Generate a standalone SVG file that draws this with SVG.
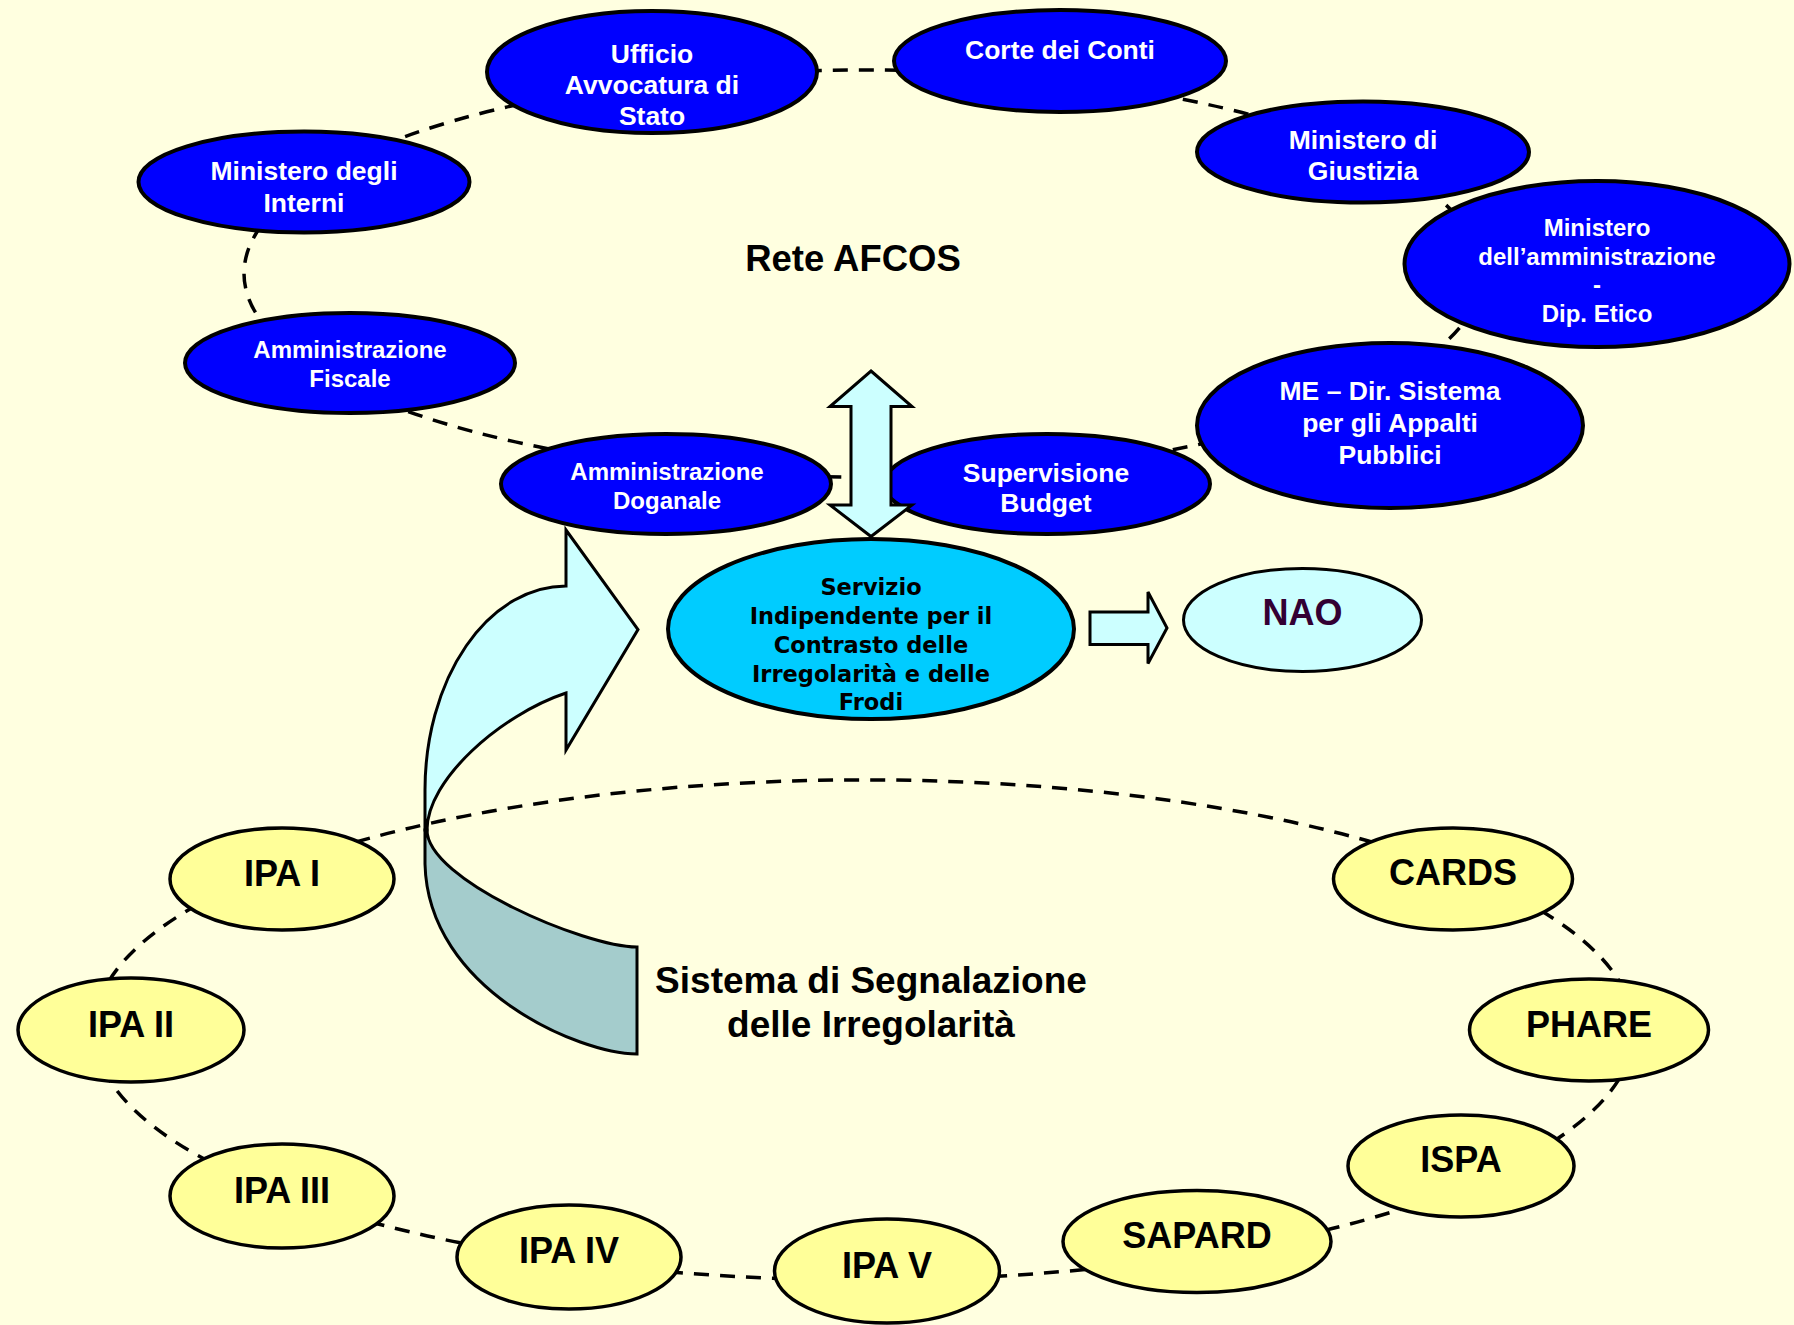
<svg xmlns="http://www.w3.org/2000/svg" width="1794" height="1325" viewBox="0 0 1794 1325">
<style>
.bn{fill:#0000FF;stroke:#000;stroke-width:4}
.yn{fill:#FFFF99;stroke:#000;stroke-width:3.5}
.ring{fill:none;stroke:#000;stroke-width:3.5;stroke-dasharray:15 11}
.arr{stroke:#000;stroke-width:3;stroke-linejoin:miter}
.lt{fill:#CCFFFF}
.dk{fill:#A4CCCC}
text{font-family:"Liberation Sans",Arial,sans-serif;font-weight:bold;text-anchor:middle}
.wt{fill:#FFF;font-size:26.5px}
.ws{fill:#FFF;font-size:24px}
.yt{fill:#000;font-size:36px}
.sv{fill:#000;font-family:"DejaVu Sans",Verdana,sans-serif;font-size:22.5px}
.big{fill:#000;font-size:36.5px}
</style>
<rect x="0" y="0" width="1794" height="1325" fill="#FFFFE0"/>

<g id="connectors">
  <!-- AFCOS ring -->
  <path class="ring" d="M651.3,82.2 A619 203.5 0 0 1 1054.3,80"/>
  <path class="ring" d="M1054.3,80 A619 203.5 0 0 1 1357.6,151"/>
  <path class="ring" d="M1357.6,151 A619 203.5 0 0 1 1479.6,255.8"/>
  <path class="ring" d="M1479.6,255.8 A619 203.5 0 0 1 1337.2,404.3"/>
  <path class="ring" d="M1337.2,404.3 A619 203.5 0 0 1 1023.2,470.1"/>
  <path class="ring" d="M1023.2,470.1 A619 203.5 0 0 1 702.8,470.1"/>
  <path class="ring" d="M702.8,470.1 A619 203.5 0 0 1 311.5,365.9"/>
  <path class="ring" d="M311.5,365.9 A619 203.5 0 0 1 311.5,181.1"/>
  <path class="ring" d="M311.5,181.1 A619 203.5 0 0 1 651.3,82.2"/>
  <!-- Irregularity reporting ring -->
  <path class="ring" d="M257.2,876 A770 250 0 0 1 1470.8,876"/>
  <path class="ring" d="M1470.8,876 A770 250 0 0 1 1634,1030"/>
  <path class="ring" d="M1634,1030 A770 250 0 0 1 1486.9,1177"/>
  <path class="ring" d="M1486.9,1177 A770 250 0 0 1 1213.6,1252.8"/>
  <path class="ring" d="M1213.6,1252.8 A770 250 0 0 1 891,1279.8"/>
  <path class="ring" d="M891,1279.8 A770 250 0 0 1 563,1260"/>
  <path class="ring" d="M563,1260 A770 250 0 0 1 282.6,1194"/>
  <path class="ring" d="M282.6,1194 A770 250 0 0 1 94,1030"/>
  <path class="ring" d="M94,1030 A770 250 0 0 1 257.2,876"/>
</g>

<text class="big" x="853" y="271">Rete AFCOS</text>
<text class="big" x="871" y="993" style="font-size:37px">Sistema di Segnalazione</text>
<text class="big" x="871" y="1037" style="font-size:37px">delle Irregolarità</text>

<g id="node-ufficio">
  <ellipse class="bn" cx="652" cy="72" rx="165" ry="61"/>
  <text class="wt" x="652" y="62.5">Ufficio</text>
  <text class="wt" x="652" y="94">Avvocatura di</text>
  <text class="wt" x="652" y="125">Stato</text>
</g>
<g id="node-corte">
  <ellipse class="bn" cx="1060" cy="61" rx="166" ry="51"/>
  <text class="wt" x="1060" y="59">Corte dei Conti</text>
</g>
<g id="node-interni">
  <ellipse class="bn" cx="304" cy="182" rx="165.5" ry="50.5"/>
  <text class="wt" x="304" y="180">Ministero degli</text>
  <text class="wt" x="304" y="211.5">Interni</text>
</g>
<g id="node-fiscale">
  <ellipse class="bn" cx="350" cy="363" rx="165" ry="50"/>
  <text class="ws" x="350" y="357.5">Amministrazione</text>
  <text class="ws" x="350" y="387">Fiscale</text>
</g>
<g id="node-doganale">
  <ellipse class="bn" cx="666" cy="484" rx="165" ry="50"/>
  <text class="ws" x="667" y="479.5">Amministrazione</text>
  <text class="ws" x="667" y="508.5">Doganale</text>
</g>
<g id="node-giustizia">
  <ellipse class="bn" cx="1363" cy="152" rx="166" ry="50.5"/>
  <text class="wt" x="1363" y="149">Ministero di</text>
  <text class="wt" x="1363" y="180">Giustizia</text>
</g>
<g id="node-etico">
  <ellipse class="bn" cx="1597" cy="264" rx="192.5" ry="83"/>
  <text class="ws" x="1597" y="236">Ministero</text>
  <text class="ws" x="1597" y="265">dell’amministrazione</text>
  <text class="ws" x="1597" y="293">-</text>
  <text class="ws" x="1597" y="321.5">Dip. Etico</text>
</g>
<g id="node-me">
  <ellipse class="bn" cx="1390" cy="425.5" rx="193" ry="82.5"/>
  <text class="wt" x="1390" y="400">ME – Dir. Sistema</text>
  <text class="wt" x="1390" y="432">per gli Appalti</text>
  <text class="wt" x="1390" y="463.5">Pubblici</text>
</g>
<g id="node-supervisione">
  <ellipse class="bn" cx="1047" cy="484" rx="163" ry="50"/>
  <text class="wt" x="1046" y="481.5">Supervisione</text>
  <text class="wt" x="1046" y="512">Budget</text>
</g>
<g id="node-servizio">
  <ellipse cx="871" cy="629" rx="203" ry="90" fill="#00CCFF" stroke="#000" stroke-width="4"/>
  <text class="sv" x="871" y="595">Servizio</text>
  <text class="sv" x="871" y="624">Indipendente per il</text>
  <text class="sv" x="871" y="652.5">Contrasto delle</text>
  <text class="sv" x="871" y="681.5">Irregolarità e delle</text>
  <text class="sv" x="871" y="710">Frodi</text>
</g>
<g id="node-nao">
  <ellipse cx="1302.5" cy="620" rx="119" ry="51.5" fill="#CCFFFF" stroke="#000" stroke-width="3"/>
  <text x="1302.5" y="625" style="fill:#330033;font-size:36px">NAO</text>
</g>

<g id="node-ipa1"><ellipse class="yn" cx="282" cy="879" rx="112" ry="51"/><text class="yt" x="282" y="885.5">IPA I</text></g>
<g id="node-ipa2"><ellipse class="yn" cx="131" cy="1030" rx="113" ry="52"/><text class="yt" x="131" y="1036.5">IPA II</text></g>
<g id="node-ipa3"><ellipse class="yn" cx="282" cy="1196" rx="112" ry="52"/><text class="yt" x="282" y="1202.5">IPA III</text></g>
<g id="node-ipa4"><ellipse class="yn" cx="569" cy="1257" rx="112" ry="52"/><text class="yt" x="569" y="1263">IPA IV</text></g>
<g id="node-ipa5"><ellipse class="yn" cx="887" cy="1271" rx="112.5" ry="52"/><text class="yt" x="887" y="1278">IPA V</text></g>
<g id="node-sapard"><ellipse class="yn" cx="1197" cy="1241.5" rx="134" ry="51"/><text class="yt" x="1197" y="1248">SAPARD</text></g>
<g id="node-ispa"><ellipse class="yn" cx="1461" cy="1166" rx="113" ry="51"/><text class="yt" x="1461" y="1172">ISPA</text></g>
<g id="node-phare"><ellipse class="yn" cx="1589" cy="1030" rx="119.5" ry="51"/><text class="yt" x="1589" y="1036.5">PHARE</text></g>
<g id="node-cards"><ellipse class="yn" cx="1453" cy="879" rx="119.5" ry="51"/><text class="yt" x="1453" y="885">CARDS</text></g>

<g id="arrows">
  <path class="arr lt" d="M871,371 L912,406.5 L891,406.5 L891,505 L912,505 L871,536.5 L830,505 L851,505 L851,406.5 L830,406.5 Z"/>
  <path class="arr lt" d="M1090,612 L1148,612 L1148,592 L1167,628 L1148,663.5 L1148,644.6 L1090,644.6 Z"/>
  <path class="arr dk" d="M427,830 C427,880 585,947 637,947 L637,1054 C580,1054 428,990 425,864 L425,830 Z"/>
  <path class="arr lt" d="M566,586 L566,530 L638,629.5 L566,750 L566,693 C500,715 427,780 427,830 L425,830 L425,790 A141 204 0 0 1 566,586 Z"/>
</g>
</svg>
